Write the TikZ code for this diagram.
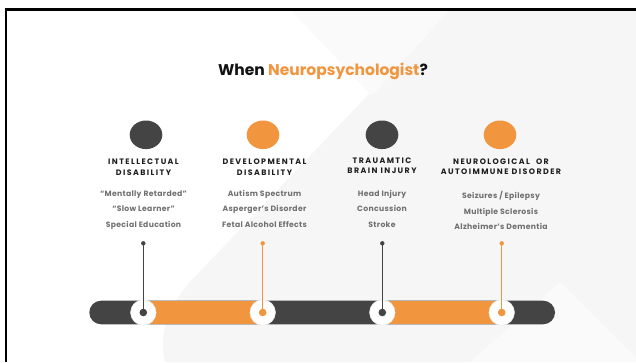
\documentclass[tikz,border=0pt]{standalone}
\usepackage{fontspec}
\setmainfont{Poppins}
\newfontfamily\headfont{Poppins}[LetterSpace=18]
\newfontfamily\itemfont{Poppins}[LetterSpace=4]
\usetikzlibrary{shapes.geometric}
\definecolor{ink}{HTML}{444444}
\definecolor{amber}{HTML}{F1963F}
\definecolor{mist}{HTML}{707070}
\definecolor{haze}{HTML}{F6F6F6}
\definecolor{haze2}{HTML}{FAFAFA}
\tikzset{
  titletext/.style={font=\fontsize{15.5}{18}\selectfont\bfseries, text=black!93, inner sep=0pt, anchor=base},
  headtext/.style={font=\headfont\fontsize{7.9}{9}\selectfont\bfseries, text=black!88, inner sep=0pt, anchor=base},
  itemtext/.style={font=\itemfont\fontsize{7.7}{9}\selectfont\bfseries, text=mist, inner sep=0pt, anchor=base},
  bullet/.style={ellipse, minimum width=32.6pt, minimum height=28.6pt, inner sep=0pt, fill=#1},
  ring/.style={circle, minimum size=25.6pt, inner sep=0pt, fill=white, draw=black!8, line width=0.4pt},
  hub/.style={circle, minimum size=7.6pt, inner sep=0pt, fill=#1},
  tip/.style={circle, minimum size=4.4pt, inner sep=0pt, fill=#1},
  stem/.style={draw=#1, line width=1pt},
}
\begin{document}
\begin{tikzpicture}[x=1pt,y=-1pt]
\useasboundingbox (0,0) rectangle (636,362);
% page and soft background panels
\fill[white] (0,0) rectangle (636,362);
\fill[haze] (450,9) -- (636,9) -- (636,362) -- (165,362)
  .. controls (158,330) and (170,305) .. (190,282) -- cycle;
\fill[haze2] (290,9) -- (450,9) -- (372,96) -- cycle;
\fill[haze2] (560,282) -- (636,358) -- (636,362) -- (470,362) -- cycle;
% frame
\draw[black, line width=2.7pt] (4.9,9.6) -- (636,9.6);
\draw[black, line width=2.3pt] (6.2,8.3) -- (6.2,362);

% heading
\node[titletext] (title) at (323,75.7) {When \textcolor{amber}{Neuropsychologist}?};

% category bullets
\node[bullet=ink]   (c1) at (146,134.8) {};
\node[bullet=amber] (c2) at (263,134.8) {};
\node[bullet=ink]   (c3) at (382,134.8) {};
\node[bullet=amber] (c4) at (500,134.8) {};

% category names
\node[headtext] (h1a) at (143.5,164.5) {INTELLECTUAL};
\node[headtext] (h1b) at (143.5,175.3) {DISABILITY};
\node[headtext] (h2a) at (264.5,164.5) {DEVELOPMENTAL};
\node[headtext] (h2b) at (264.5,175.3) {DISABILITY};
\node[headtext] (h3a) at (382,163.3) {TRAUAMTIC};
\node[headtext] (h3b) at (382,173.3) {BRAIN INJURY};
\node[headtext] (h4a) at (501,164) {NEUROLOGICAL \ OR};
\node[headtext] (h4b) at (501,174) {AUTOIMMUNE DISORDER};

% examples
\node[itemtext] (i1a) at (143.5,196) {“Mentally Retarded”};
\node[itemtext] (i1b) at (143.5,211.7) {“Slow Learner”};
\node[itemtext] (i1c) at (143.5,227.3) {Special Education};
\node[itemtext] (i2a) at (264.5,196) {Autism Spectrum};
\node[itemtext] (i2b) at (264.5,211.7) {Asperger’s Disorder};
\node[itemtext] (i2c) at (264.5,227.3) {Fetal Alcohol Effects};
\node[itemtext] (i3a) at (382,196) {Head Injury};
\node[itemtext] (i3b) at (382,211.7) {Concussion};
\node[itemtext] (i3c) at (382,227.3) {Stroke};
\node[itemtext] (i4a) at (501,198.3) {Seizures / Epilepsy};
\node[itemtext] (i4b) at (501,214) {Multiple Sclerosis};
\node[itemtext] (i4c) at (501,229.7) {Alzheimer’s Dementia};

% timeline bar
\fill[ink, rounded corners=11.8pt] (89.3,300.7) rectangle (555,324.3);
\fill[amber] (143.3,300.7) rectangle (262.7,324.3);
\fill[amber] (382.3,300.7) rectangle (501.7,324.3);

% pins
\coordinate (t1) at (143.3,243.3);
\coordinate (t2) at (262.7,243.3);
\coordinate (t3) at (382.3,243.3);
\coordinate (t4) at (501.7,243.3);
\node[ring] (r1) at (143.3,312.5) {};
\node[ring] (r2) at (262.7,312.5) {};
\node[ring] (r3) at (382.3,312.5) {};
\node[ring] (r4) at (501.7,312.5) {};
\draw[stem=ink]   (t1) -- (r1.center);
\draw[stem=amber] (t2) -- (r2.center);
\draw[stem=ink]   (t3) -- (r3.center);
\draw[stem=amber] (t4) -- (r4.center);
\node[tip=ink]   (p1) at (t1) {};
\node[tip=amber] (p2) at (t2) {};
\node[tip=ink]   (p3) at (t3) {};
\node[tip=amber] (p4) at (t4) {};
\node[hub=ink]   (k1) at (r1) {};
\node[hub=amber] (k2) at (r2) {};
\node[hub=ink]   (k3) at (r3) {};
\node[hub=amber] (k4) at (r4) {};
\end{tikzpicture}
\end{document}
